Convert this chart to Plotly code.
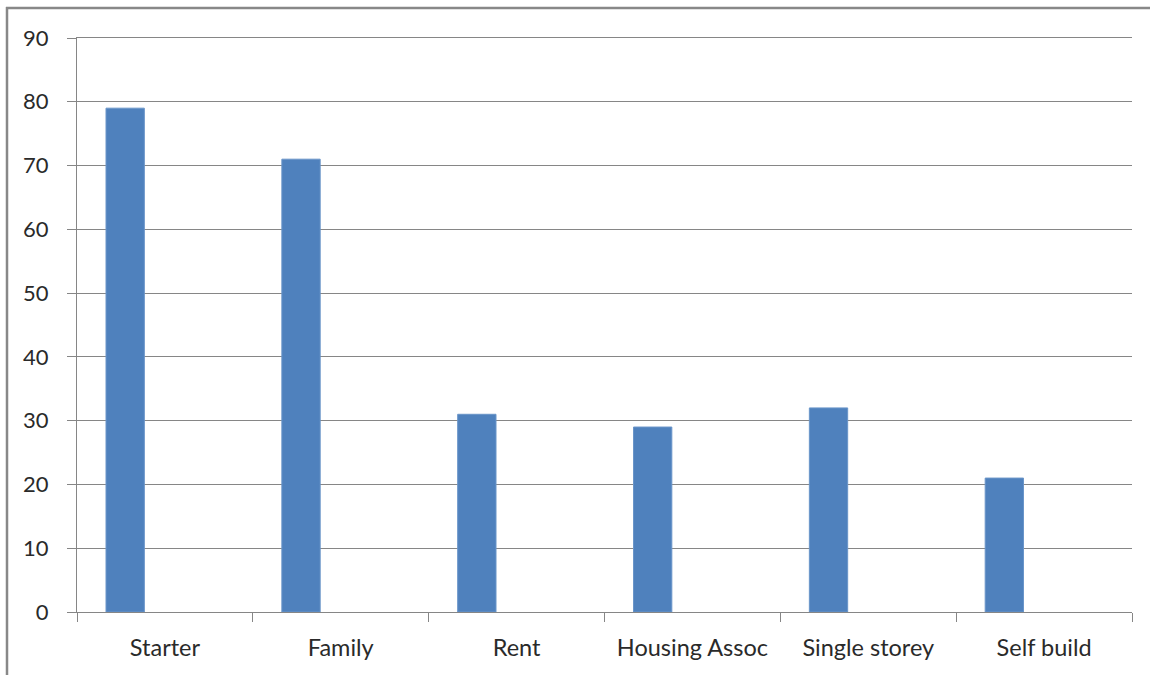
import plotly.graph_objects as go

categories = ["Starter", "Family", "Rent", "Housing Assoc", "Single storey", "Self build"]
values = [79, 71, 31, 29, 32, 21]
y_ticks = [0, 10, 20, 30, 40, 50, 60, 70, 80, 90]

W, H = 1150, 675
L, R, T, B = 77, 18, 38, 63
pw, ph = W - L - R, H - T - B

fig = go.Figure(go.Bar(
    x=categories, y=values,
    width=0.218, offset=-0.335,
    marker=dict(color="#4F81BD", line=dict(color="#6A95C9", width=1)),
))

def px_x(px):
    return (px - L) / pw

def px_y(py):
    return (H - B - py) / ph

fig.update_layout(
    width=W, height=H,
    margin=dict(l=L, r=R, t=T, b=B),
    paper_bgcolor="white", plot_bgcolor="white",
    showlegend=False,
    font=dict(family="Lato, Carlito, Calibri, sans-serif", size=22, color="#2a2a2a"),
    xaxis=dict(
        type="category", tickson="boundaries", ticks="outside", ticklen=9,
        tickcolor="#868686", showline=True, mirror=True, linecolor="#868686", linewidth=1,
        showgrid=False, ticklabelstandoff=15, tickfont=dict(size=23.5),
    ),
    yaxis=dict(
        range=[0, 90], tickvals=y_ticks, ticks="outside", ticklen=9,
        tickcolor="#868686", showline=True, linecolor="#868686", linewidth=1,
        showgrid=True, gridcolor="#868686", gridwidth=1, zeroline=False,
        ticklabelstandoff=14,
    ),
    shapes=[
        dict(type="line", xref="paper", yref="paper",
             x0=px_x(6), x1=px_x(1160), y0=px_y(8), y1=px_y(8),
             line=dict(color="#888888", width=2.5)),
        dict(type="line", xref="paper", yref="paper",
             x0=px_x(7), x1=px_x(7), y0=px_y(7), y1=px_y(690),
             line=dict(color="#888888", width=2.5)),
    ],
)

fig.write_html("out.html", config={"displayModeBar": False},
               post_script="document.body.style.margin='0px';")
